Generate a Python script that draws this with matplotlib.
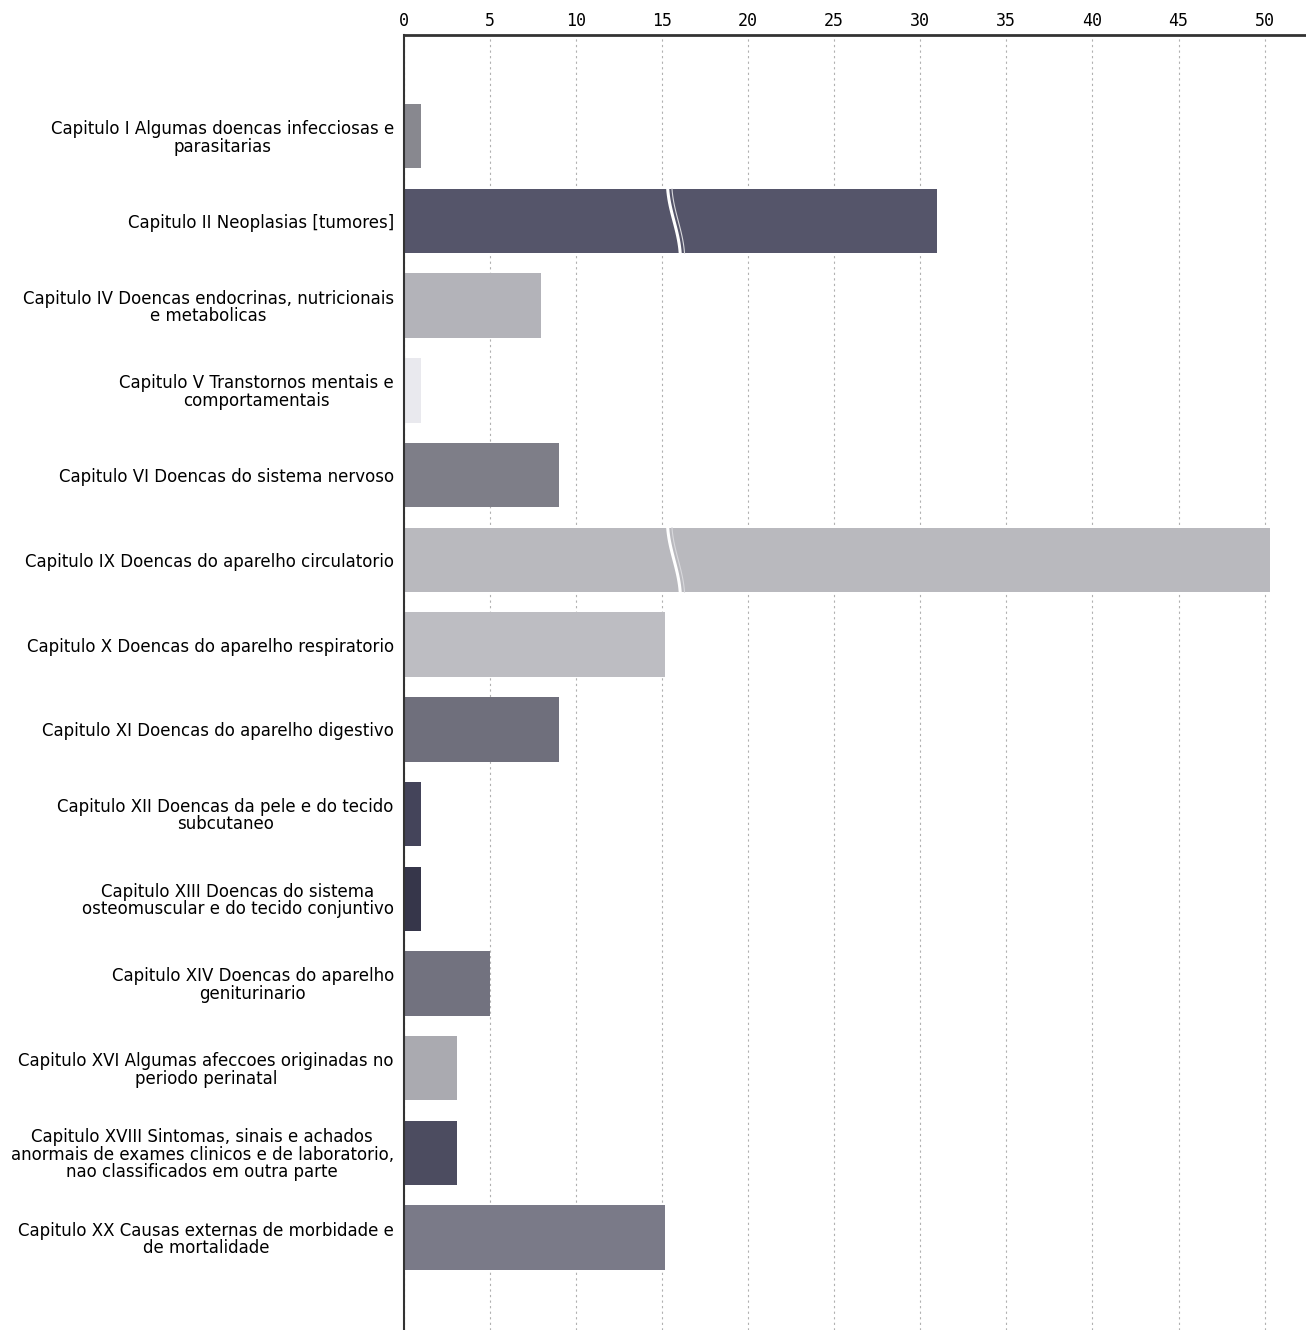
import matplotlib.pyplot as plt
import numpy as np

# dados (obitos por capitulo CID-10)
categorias = [
    "Capitulo I Algumas doencas infecciosas e\nparasitarias",
    "Capitulo II Neoplasias [tumores]",
    "Capitulo IV Doencas endocrinas, nutricionais\ne metabolicas",
    "Capitulo V Transtornos mentais e\ncomportamentais",
    "Capitulo VI Doencas do sistema nervoso",
    "Capitulo IX Doencas do aparelho circulatorio",
    "Capitulo X Doencas do aparelho respiratorio",
    "Capitulo XI Doencas do aparelho digestivo",
    "Capitulo XII Doencas da pele e do tecido\nsubcutaneo",
    "Capitulo XIII Doencas do sistema\nosteomuscular e do tecido conjuntivo",
    "Capitulo XIV Doencas do aparelho\ngeniturinario",
    "Capitulo XVI Algumas afeccoes originadas no\nperiodo perinatal",
    "Capitulo XVIII Sintomas, sinais e achados\nanormais de exames clinicos e de laboratorio,\nnao classificados em outra parte",
    "Capitulo XX Causas externas de morbidade e\nde mortalidade",
]
valores = [1, 31, 8, 1, 9, 50.3, 15.2, 9, 1, 1, 5, 3.1, 3.1, 15.2]
cores = ["#88888f", "#55556a", "#b3b3b9", "#e9e9ee", "#7e7e88", "#b9b9be",
         "#bdbdc2", "#6f6f7c", "#44445a", "#36364a", "#72727f", "#aaaab0",
         "#4c4c60", "#7a7a88"]
barras_quebradas = [1, 5]   # barras com simbolo de quebra
pos_quebra = 15.7

ticks_x = np.arange(0, 55, 5)

fig = plt.figure(figsize=(13.06, 13.30), dpi=100)
ax = fig.add_axes([0.309, 0.0, 0.691, 0.974])

y = np.arange(len(categorias))
ax.barh(y, valores, height=0.76, color=cores, zorder=2)

for i in barras_quebradas:
    yy = np.linspace(i - 0.38, i + 0.38, 20)
    xx = pos_quebra + 0.25 * np.sin((yy - i) * 4) + (yy - i) * 0.3
    ax.plot(xx, yy, color="white", lw=2.2, zorder=3)
    ax.plot(xx + 0.25, yy, color="#d8d8dc", lw=0.8, zorder=3)

ax.set_xlim(0, 52.4)
ax.set_ylim(len(categorias) - 1 + 1.09, -1.2)
ax.set_xticks(ticks_x)
ax.xaxis.tick_top()
ax.tick_params(axis="x", length=0, pad=3, labelsize=12)
for t in ax.get_xticklabels():
    t.set_fontfamily("DejaVu Sans Mono")
ax.set_yticks(y)
ax.set_yticklabels(categorias, fontsize=12, multialignment="center",
                   linespacing=0.95, family="DejaVu Sans")
ax.tick_params(axis="y", length=0, pad=7)

ax.grid(axis="x", color="#b0b0b0", linestyle=(0, (2, 3)), lw=0.8, zorder=0)
for s in ["right", "bottom"]:
    ax.spines[s].set_visible(False)
ax.spines["top"].set_linewidth(2)
ax.spines["top"].set_color("#333333")
ax.spines["left"].set_linewidth(1.5)
ax.spines["left"].set_color("#333333")

fig.savefig("out.png", dpi=100)
